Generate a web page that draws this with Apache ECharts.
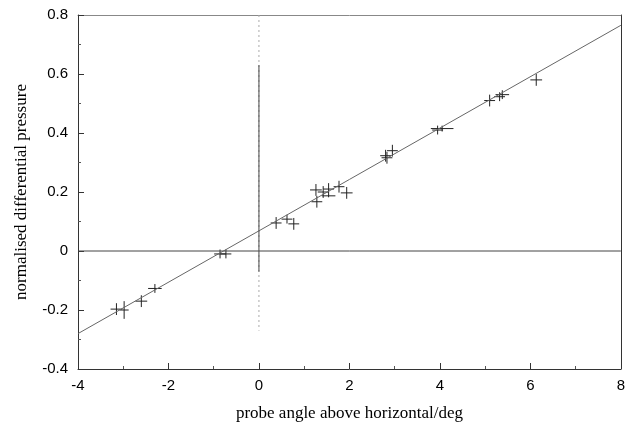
<!DOCTYPE html>
<html>
<head>
<meta charset="utf-8">
<script src="https://cdn.jsdelivr.net/npm/echarts@6/dist/echarts.min.js"></script>
<style>
  html, body { margin: 0; padding: 0; background: #fff; }
  #chart { width: 628px; height: 427px; }
</style>
</head>
<body>
<div id="chart"></div>
<script>
// measured points: angle (deg), normalised pressure, half error bars
const angle = [-3.15, -2.98, -2.6, -2.3, -0.86, -0.73, 0.38, 0.62, 0.77,
  1.26, 1.28, 1.42, 1.54, 1.54, 1.77, 1.94, 2.8, 2.83, 2.95,
  3.95, 4.05, 5.1, 5.32, 5.38, 6.13]
const pressure = [-0.197, -0.2, -0.17, -0.127, -0.01, -0.01, 0.095, 0.108, 0.092,
  0.207, 0.167, 0.2, 0.21, 0.187, 0.218, 0.197, 0.323, 0.316, 0.34,
  0.41, 0.415, 0.51, 0.523, 0.53, 0.58]
const angleErr = [0.13, 0.1, 0.13, 0.15, 0.13, 0.12, 0.12, 0.12, 0.12,
  0.13, 0.12, 0.12, 0.12, 0.15, 0.12, 0.13, 0.12, 0.12, 0.12,
  0.12, 0.25, 0.12, 0.12, 0.15, 0.13]
const pressureErr = [0.02, 0.03, 0.02, 0.015, 0.015, 0.015, 0.02, 0.015, 0.02,
  0.02, 0.02, 0.02, 0.02, 0.005, 0.02, 0.02, 0.02, 0.02, 0.02,
  0.015, 0.01, 0.02, 0.015, 0.015, 0.02]

// least squares line end points
const fitX = [-4, 8]
const fitY = [-0.28, 0.765]

const points = angle.map((a, i) => [a, pressure[i], angleErr[i], pressureErr[i]])

const chart = echarts.init(document.getElementById('chart'), null, { renderer: 'canvas' })

const labelFont = { color: '#000', fontSize: 15, fontFamily: 'Liberation Sans, Arial, sans-serif' }
const titleFont = { color: '#000', fontSize: 17, fontFamily: 'Liberation Serif, Times New Roman, serif' }

const option = {
  animation: false,
  grid: { left: 78, right: 6, top: 15, bottom: 58 },
  xAxis: [{
    type: 'value', min: -4, max: 8, interval: 2,
    name: 'probe angle above horizontal/deg',
    nameLocation: 'middle', nameGap: 36, nameTextStyle: titleFont,
    axisLine: { show: true, onZero: false, lineStyle: { color: '#333', width: 1 } },
    axisTick: { inside: true, length: 6, lineStyle: { color: '#333' } },
    minorTick: { show: true, splitNumber: 2, length: 3, lineStyle: { color: '#555' } },
    axisLabel: Object.assign({ margin: 9 }, labelFont),
    splitLine: { show: false }
  }, {
    type: 'value', min: -4, max: 8, interval: 2, position: 'top',
    axisLine: { show: true, onZero: false, lineStyle: { color: '#888', width: 1 } },
    axisTick: { show: false },
    axisLabel: { show: false },
    splitLine: { show: false }
  }],
  yAxis: [{
    type: 'value', min: -0.4, max: 0.8, interval: 0.2,
    name: 'normalised differential pressure',
    nameLocation: 'middle', nameGap: 48, nameTextStyle: titleFont,
    axisLine: { show: true, onZero: false, lineStyle: { color: '#333', width: 1 } },
    axisTick: { inside: true, length: 6, lineStyle: { color: '#333' } },
    minorTick: { show: true, splitNumber: 2, length: 3, lineStyle: { color: '#555' } },
    axisLabel: Object.assign({ margin: 10, formatter: v => (Math.round(v * 10) / 10).toString() }, labelFont),
    splitLine: { show: false }
  }, {
    type: 'value', min: -0.4, max: 0.8, interval: 0.2, position: 'right',
    axisLine: { show: true, onZero: false, lineStyle: { color: '#333', width: 1 } },
    axisTick: { show: false },
    axisLabel: { show: false },
    splitLine: { show: false }
  }],
  series: [
    {
      // horizontal zero line
      type: 'line', data: [[-4, 0], [8, 0]], symbol: 'none',
      lineStyle: { color: '#444', width: 1 }, silent: true
    },
    {
      // vertical zero line, faint part
      type: 'line', data: [[0, 0.8], [0, -0.27]], symbol: 'none',
      lineStyle: { color: '#aaa', width: 1, type: [2, 3] }, silent: true
    },
    {
      // vertical zero line, solid part
      type: 'line', data: [[0, 0.63], [0, -0.07]], symbol: 'none',
      lineStyle: { color: '#444', width: 1 }, silent: true
    },
    {
      // fitted line
      type: 'line', data: fitX.map((x, i) => [x, fitY[i]]), symbol: 'none',
      lineStyle: { color: '#666', width: 1 }, silent: true
    },
    {
      // crosses with error bars
      type: 'custom',
      data: points,
      renderItem: function (params, api) {
        const x = api.value(0), y = api.value(1)
        const ex = api.value(2), ey = api.value(3)
        const l = api.coord([x - ex, y]), r = api.coord([x + ex, y])
        const t = api.coord([x, y + ey]), b = api.coord([x, y - ey])
        const style = { stroke: '#222', lineWidth: 1 }
        return {
          type: 'group',
          children: [
            { type: 'line', shape: { x1: l[0], y1: l[1], x2: r[0], y2: r[1] }, style: style },
            { type: 'line', shape: { x1: t[0], y1: t[1], x2: b[0], y2: b[1] }, style: style }
          ]
        }
      }
    }
  ]
}

chart.setOption(option)
</script>
</body>
</html>
